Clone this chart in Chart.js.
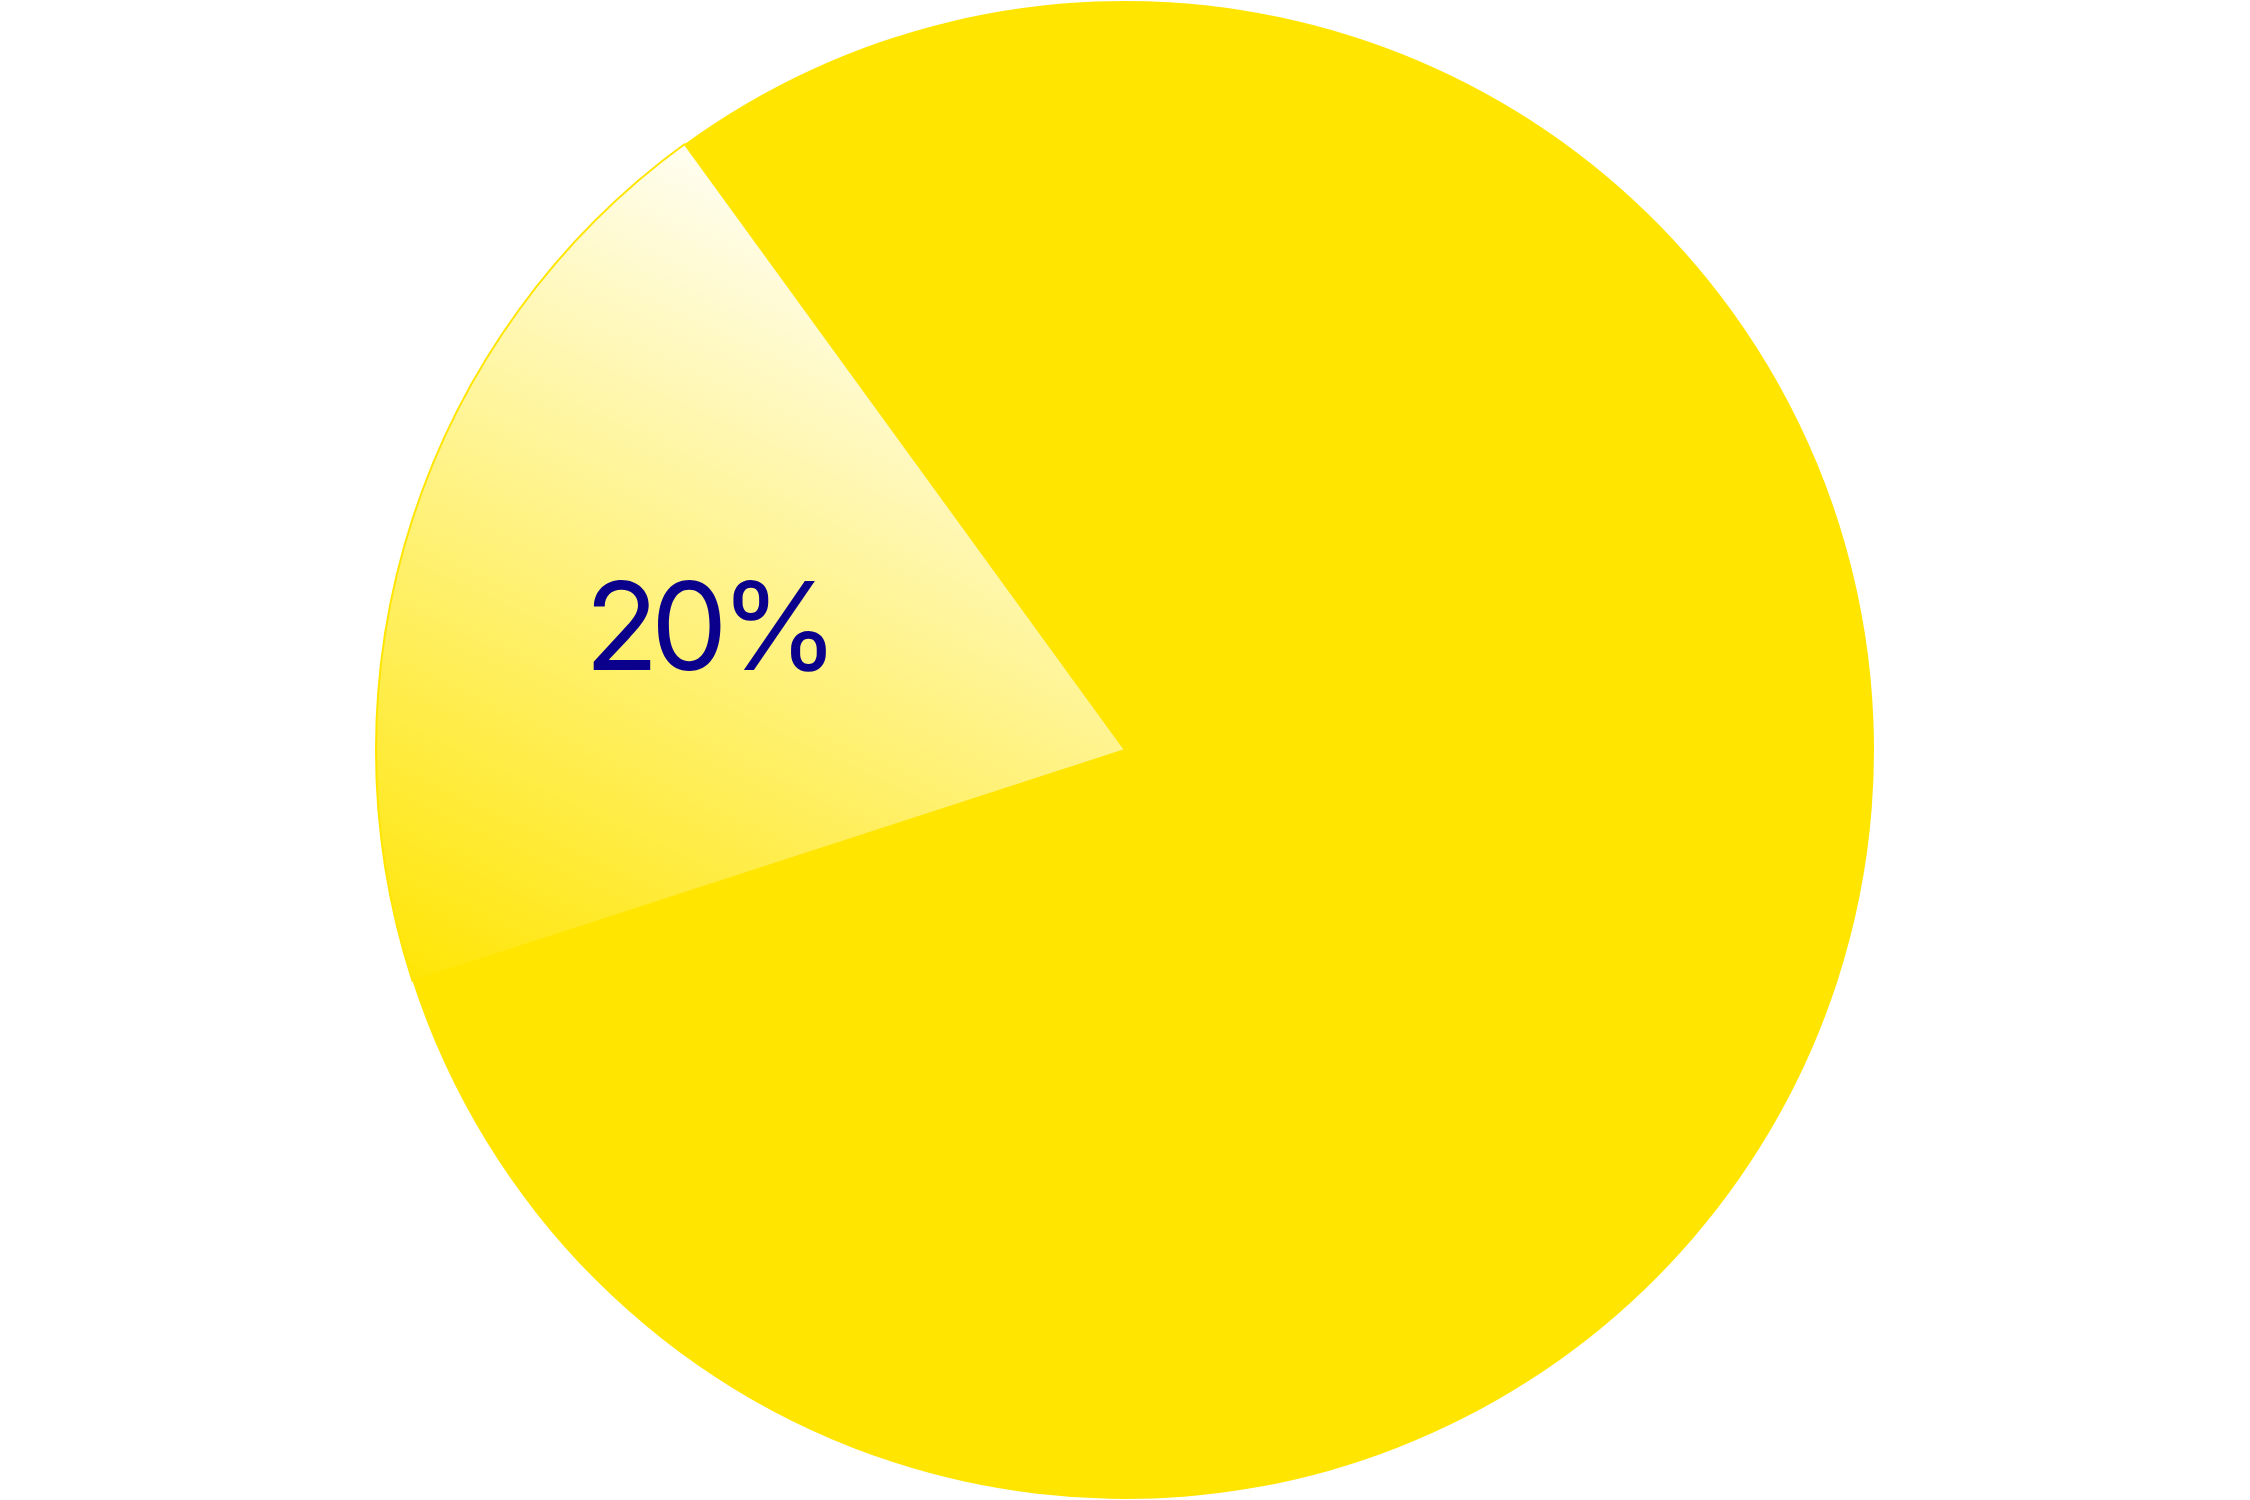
<!DOCTYPE html>
<html>
<head>
<meta charset="utf-8">
<script src="https://cdn.jsdelivr.net/npm/chart.js@4.4.1/dist/chart.umd.min.js"></script>
<style>
  html, body { margin: 0; padding: 0; background: #ffffff; }
  #wrap { width: 2250px; height: 1500px; position: relative; }
</style>
</head>
<body>
<div id="wrap"><canvas id="c" width="2250" height="1500"></canvas></div>
<script>
const categories = ['Rest', 'Share'];
const values = [80, 20];
const valueLabels = ['', '20%'];

const YELLOW = '#FFE500';
const TEXT_COLOR = '#0A008C';
const LABEL_FONT = '400 122px Inter';

function sliceFill(context) {
  const chart = context.chart;
  if (context.dataIndex === 0) return YELLOW;
  const area = chart.chartArea;
  if (!area) return '#FFF3A0';
  const cx = (area.left + area.right) / 2, cy = (area.top + area.bottom) / 2;
  const r = Math.min(area.right - area.left, area.bottom - area.top) / 2;
  const g = chart.ctx.createLinearGradient(cx - 0.433 * r, cy - 0.813 * r, cx - 0.967 * r, cy + 0.333 * r);
  g.addColorStop(0, '#FFFFFF');
  g.addColorStop(1, YELLOW);
  return g;
}

const labelPlugin = {
  id: 'sliceLabels',
  afterDatasetsDraw(chart) {
    const ctx = chart.ctx;
    const meta = chart.getDatasetMeta(0);
    meta.data.forEach((arc, i) => {
      const txt = valueLabels[i];
      if (!txt) return;
      const p = arc.getProps(['x', 'y', 'startAngle', 'endAngle', 'outerRadius'], true);
      const mid = (p.startAngle + p.endAngle) / 2 - 1.4 * Math.PI / 180;
      const rr = p.outerRadius * 0.578;
      const x = p.x + Math.cos(mid) * rr;
      const y = p.y + Math.sin(mid) * rr;
      ctx.save();
      ctx.font = LABEL_FONT;
      try { ctx.letterSpacing = '-8px'; } catch (e) {}
      ctx.fillStyle = TEXT_COLOR;
      ctx.textAlign = 'left';
      ctx.textBaseline = 'alphabetic';
      const m = ctx.measureText(txt);
      const asc = m.actualBoundingBoxAscent, desc = m.actualBoundingBoxDescent;
      const left = -m.actualBoundingBoxLeft, right = m.actualBoundingBoxRight;
      const w = right - left;
      ctx.fillText(txt, x - w / 2 - left, y + (asc - desc) / 2);
      ctx.restore();
    });
  }
};

function build() {
  new Chart(document.getElementById('c'), {
    type: 'pie',
    data: {
      labels: categories,
      datasets: [{
        data: values,
        backgroundColor: sliceFill,
        borderColor: YELLOW,
        borderWidth: [0, 2],
        hoverOffset: 0
      }]
    },
    options: {
      responsive: false,
      animation: false,
      rotation: -36,
      layout: { padding: 0 },
      plugins: {
        legend: { display: false },
        tooltip: { enabled: false },
        title: { display: false }
      }
    },
    plugins: [labelPlugin]
  });
}

if (document.fonts && document.fonts.load) {
  document.fonts.load(LABEL_FONT, '20%').then(build, build);
} else {
  build();
}
</script>
</body>
</html>
